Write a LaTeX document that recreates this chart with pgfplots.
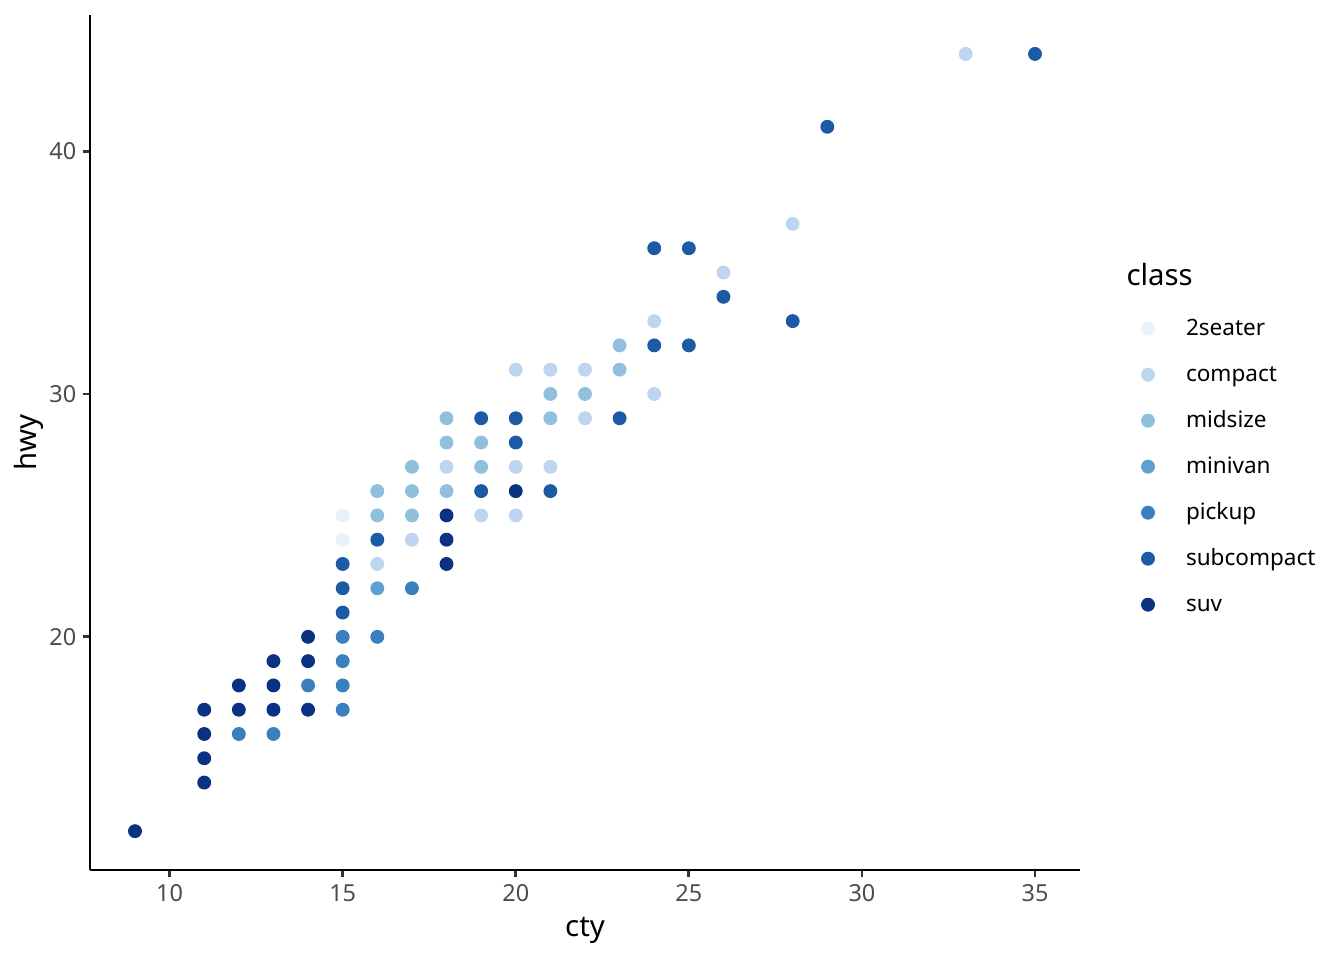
\documentclass[border=0pt]{standalone}
\usepackage{pgfplots}
\pgfplotsset{compat=1.18}
\usepackage{fontspec}
\setmainfont{Noto Sans}
\definecolor{ctwo}{HTML}{EAF1FB}
\definecolor{ccompact}{HTML}{BDD5EE}
\definecolor{cmidsize}{HTML}{91C0DC}
\definecolor{cminivan}{HTML}{5DA1D1}
\definecolor{cpickup}{HTML}{3A80BE}
\definecolor{csub}{HTML}{1C5AA6}
\definecolor{csuv}{HTML}{0A3182}
\begin{document}
\begin{tikzpicture}
\useasboundingbox (-33.75pt,-33.75pt) rectangle (470.25pt,326.25pt);
\begin{axis}[
  name=ax,
  scale only axis,
  width=371.25pt, height=320.6pt,
  xmin=7.7, xmax=36.3, ymin=10.4, ymax=45.6,
  axis lines*=left,
  axis line style={line width=1.07pt, black},
  xtick={10,15,20,25,30,35}, ytick={20,30,40},
  tick align=outside, major tick length=2.75pt,
  tick style={line width=1.07pt, black!80},
  /pgf/number format/assume math mode=true,
  ticklabel style={font=\fontsize{8.8}{10}\selectfont, text=black!70},
  xticklabel style={yshift=0.75pt},
  yticklabel style={xshift=1.1pt},
  xlabel={cty}, ylabel={hwy},
  label style={font=\fontsize{11}{13}\selectfont},
  xlabel style={at={(axis description cs:0.5,-0.0783)}, anchor=base},
  ylabel style={at={(axis description cs:-0.0545,0.5)}, anchor=base},
  clip=false,
  legend style={at={(axis description cs:1,1)}, anchor=north west,
    xshift=23.1pt, yshift=-113.6pt, draw=none, fill=none,
    inner sep=0pt, outer sep=0pt, row sep=9.25pt,
    font=\fontsize{8.45}{10}\selectfont,
    nodes={inner sep=0pt, text height=6.4pt, text depth=1.6pt},
    /tikz/column 1/.style={column sep=11.85pt}},
  legend cell align=left,
  legend image code/.code={\draw[#1] plot coordinates {(0pt,0pt)};},
  every axis plot/.append style={only marks, mark=*, mark size=2.4pt, mark options={draw=none}},
]
% 2seater
\addplot[color=ctwo] coordinates {(15,25) (15,24) (16,26) (15,23)};
\addlegendentry{2seater}
% compact
\addplot[color=ccompact] coordinates {(16,23) (17,24) (18,27) (19,25) (20,25) (20,27) (20,31) (21,27) (21,31) (22,29) (22,31) (24,30) (24,33) (26,35) (28,37) (33,44)};
\addlegendentry{compact}
% midsize
\addplot[color=cmidsize] coordinates {(16,25) (16,26) (17,25) (17,26) (17,27) (18,26) (18,28) (18,29) (19,27) (19,28) (21,29) (21,30) (22,30) (23,31) (23,32)};
\addlegendentry{midsize}
% minivan
\addplot[color=cminivan] coordinates {(16,22)};
\addlegendentry{minivan}
% pickup
\addplot[color=cpickup] coordinates {(12,16) (13,16) (14,18) (15,17) (15,18) (15,19) (15,20) (16,20) (17,22)};
\addlegendentry{pickup}
% subcompact
\addplot[color=csub] coordinates {(15,21) (15,22) (15,23) (16,24) (19,26) (19,29) (20,28) (20,29) (21,26) (23,29) (24,32) (25,32) (26,34) (24,36) (25,36) (28,33) (29,41) (35,44)};
\addlegendentry{subcompact}
% suv
\addplot[color=csuv] coordinates {(9,12) (11,14) (11,15) (11,16) (11,17) (12,17) (12,18) (13,17) (13,18) (13,19) (14,17) (14,19) (14,20) (18,23) (18,24) (18,25) (20,26)};
\addlegendentry{suv}
\end{axis}
\node[anchor=base west, inner sep=0pt, font=\fontsize{11}{13}\selectfont] at ([xshift=17.25pt,yshift=-101.25pt]ax.north east) {class};
\end{tikzpicture}
\end{document}
